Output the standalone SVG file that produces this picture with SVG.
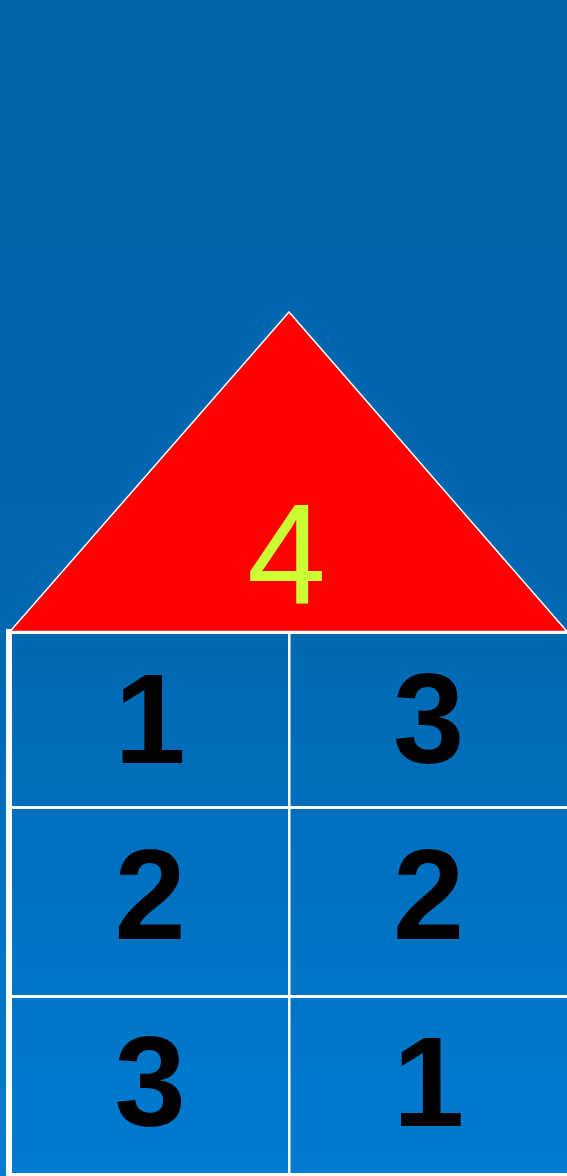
<svg xmlns="http://www.w3.org/2000/svg" width="567" height="1176" viewBox="0 0 567 1176">
  <defs>
    <linearGradient id="bg" x1="0" y1="0" x2="0" y2="1">
      <stop offset="0" stop-color="#0065aa"/>
      <stop offset="0.5" stop-color="#0067b0"/>
      <stop offset="1" stop-color="#007bd0"/>
    </linearGradient>
    <style>
      .num { font-family: "Liberation Sans", Arial, sans-serif; font-weight: bold; font-size: 128px; fill: #000; text-anchor: middle; }
      .line { stroke: #fff; fill: none; }
    </style>
  </defs>
  <rect x="0" y="0" width="567" height="1176" fill="url(#bg)"/>
  <g id="roof">
    <polygon points="289,312 10,631.5 567,631.5" fill="#ff0000" stroke="#fff" stroke-width="1.5"/>
    <text x="286.5" y="603" font-family="Liberation Sans, Arial, sans-serif" font-size="142" fill="#ccff33" text-anchor="middle">4</text>
  </g>
  <g id="grid">
    <rect x="6" y="629" width="6" height="547" fill="#fff"/>
    <rect x="12" y="631" width="555" height="3" fill="#fff"/>
    <rect x="12" y="1173" width="555" height="3" fill="#fff"/>
    <rect x="12" y="806" width="555" height="3" fill="#fff"/>
    <rect x="12" y="995" width="555" height="3" fill="#fff"/>
    <rect x="288" y="634" width="2.5" height="539" fill="#fff"/>
  </g>
  <g id="cells">
    <text class="num" x="150" y="763">1</text>
    <text class="num" x="428.5" y="763">3</text>
    <text class="num" x="150" y="939">2</text>
    <text class="num" x="428.5" y="939">2</text>
    <text class="num" x="150" y="1126">3</text>
    <text class="num" x="428.5" y="1126">1</text>
  </g>
</svg>
